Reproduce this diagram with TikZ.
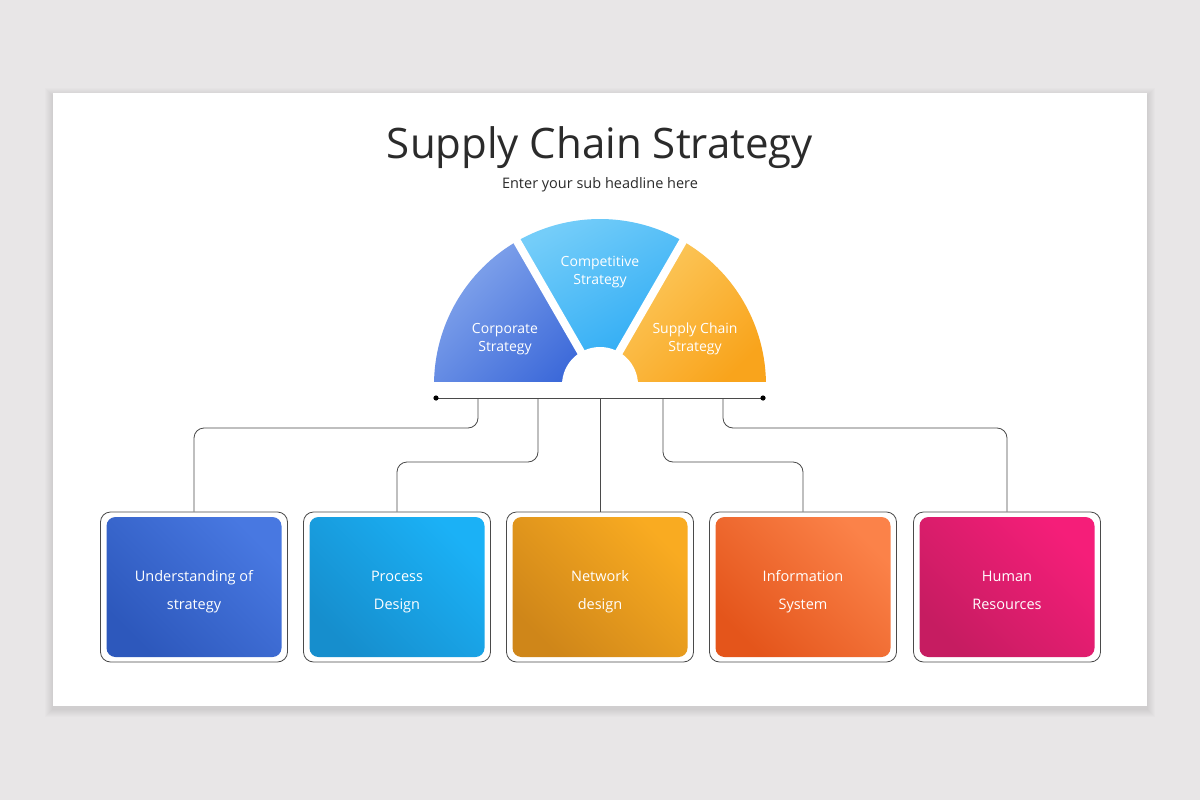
\documentclass[tikz,border=0pt]{standalone}
\usepackage{fontspec}
\setmainfont{Open Sans}
\definecolor{pagegray}{HTML}{E8E6E7}
\definecolor{titlegray}{HTML}{2B2B2B}
\definecolor{linegray}{HTML}{4A4A4A}
\definecolor{corpA}{HTML}{84A6EC}
\definecolor{corpB}{HTML}{3C69D9}
\definecolor{compA}{HTML}{74CDF9}
\definecolor{compB}{HTML}{27A8F4}
\definecolor{scA}{HTML}{FCCB62}
\definecolor{scB}{HTML}{F9A41C}
\definecolor{undA}{HTML}{4878E1}
\definecolor{undB}{HTML}{2D58BC}
\definecolor{proA}{HTML}{1BB1F6}
\definecolor{proB}{HTML}{168ECD}
\definecolor{netA}{HTML}{F9AB21}
\definecolor{netB}{HTML}{CF8619}
\definecolor{infA}{HTML}{FB8249}
\definecolor{infB}{HTML}{E4551B}
\definecolor{humA}{HTML}{F51E79}
\definecolor{humB}{HTML}{C61C61}
\begin{document}
\begin{tikzpicture}[x=1pt,y=-1pt,
  link/.style={draw=linegray,line width=0.8pt,rounded corners=10pt},
  frame/.style={draw=linegray,line width=0.8pt,rounded corners=10pt,fill=white,
    minimum width=187pt,minimum height=150pt},
  tile/.style 2 args={top color=#1,bottom color=#2,shading angle=-45,
    rounded corners=9pt,minimum width=175pt,minimum height=140pt},
  tiletext/.style={text=white,align=center,font=\fontsize{14.5}{28}\selectfont},
  wedgetext/.style={text=white,align=center,font=\fontsize{14}{18}\selectfont}]
  \fill[pagegray] (0,0) rectangle (1200,800);
  \useasboundingbox (0,0) rectangle (1200,800);
  \foreach \s in {1,...,8}
    \fill[black,opacity=0.01] (53-\s,93-\s+3) rectangle (1147+\s,706+\s+3);
  \fill[white] (53,93) rectangle (1147,706);

  \node[anchor=base,text=titlegray,font=\fontsize{42}{50}\selectfont] (title) at (600,158) {Supply Chain Strategy};
  \node[anchor=base,text=titlegray,font=\fontsize{14.5}{18}\selectfont] (sub) at (600,188) {Enter your sub headline here};

  \coordinate (hub) at (600,385);
  \begin{scope}
    \clip (400,200) rectangle (800,381);
    \begin{scope}[shift={(hub)}]
      \shade[top color=corpA,bottom color=corpB,shading angle=45]
        (0,0) -- (180:166pt) arc[start angle=180,end angle=120,radius=166pt] -- cycle;
      \shade[top color=compA,bottom color=compB,shading angle=30]
        (0,0) -- (120:166pt) arc[start angle=120,end angle=60,radius=166pt] -- cycle;
      \shade[top color=scA,bottom color=scB,shading angle=45]
        (0,0) -- (60:166pt) arc[start angle=60,end angle=0,radius=166pt] -- cycle;
      \draw[white,line width=8pt] (0,0) -- (120:170pt);
      \draw[white,line width=8pt] (0,0) -- (60:170pt);
      \fill[white] (0,0) circle (38pt);
    \end{scope}
  \end{scope}
  \node[wedgetext] (corp) at (505,339) {Corporate\\Strategy};
  \node[wedgetext] (comp) at (600,272) {Competitive\\Strategy};
  \node[wedgetext] (scs) at (695,339) {Supply Chain\\Strategy};

  \coordinate (bl) at (436,398);
  \coordinate (br) at (763,398);
  \coordinate (d1) at (478,398);
  \coordinate (d2) at (538,398);
  \coordinate (d3) at (600,398);
  \coordinate (d4) at (663,398);
  \coordinate (d5) at (723,398);
  \draw[linegray,line width=0.8pt] (bl) -- (br);
  \fill[black] (bl) circle (2.6pt) (br) circle (2.6pt);

  \node[frame] (b1) at (194,587) {};
  \node[frame] (b2) at (397,587) {};
  \node[frame] (b3) at (600,587) {};
  \node[frame] (b4) at (803,587) {};
  \node[frame] (b5) at (1007,587) {};

  \node[tile={undA}{undB}] (t1) at (b1) {};
  \node[tile={proA}{proB}] (t2) at (b2) {};
  \node[tile={netA}{netB}] (t3) at (b3) {};
  \node[tile={infA}{infB}] (t4) at (b4) {};
  \node[tile={humA}{humB}] (t5) at (b5) {};
  \node[tiletext] at (194,592) {Understanding of\\strategy};
  \node[tiletext] at (397,592) {Process\\Design};
  \node[tiletext] at (600,592) {Network\\design};
  \node[tiletext] at (803,592) {Information\\System};
  \node[tiletext] at (1007,590) {Human\\Resources};

  \draw[link] (d1) -- ++(0,30) -| (b1.north);
  \draw[link] (d2) -- ++(0,64) -| (b2.north);
  \draw[link] (d3) -- (b3.north);
  \draw[link] (d4) -- ++(0,64) -| (b4.north);
  \draw[link] (d5) -- ++(0,30) -| (b5.north);
\end{tikzpicture}
\end{document}
